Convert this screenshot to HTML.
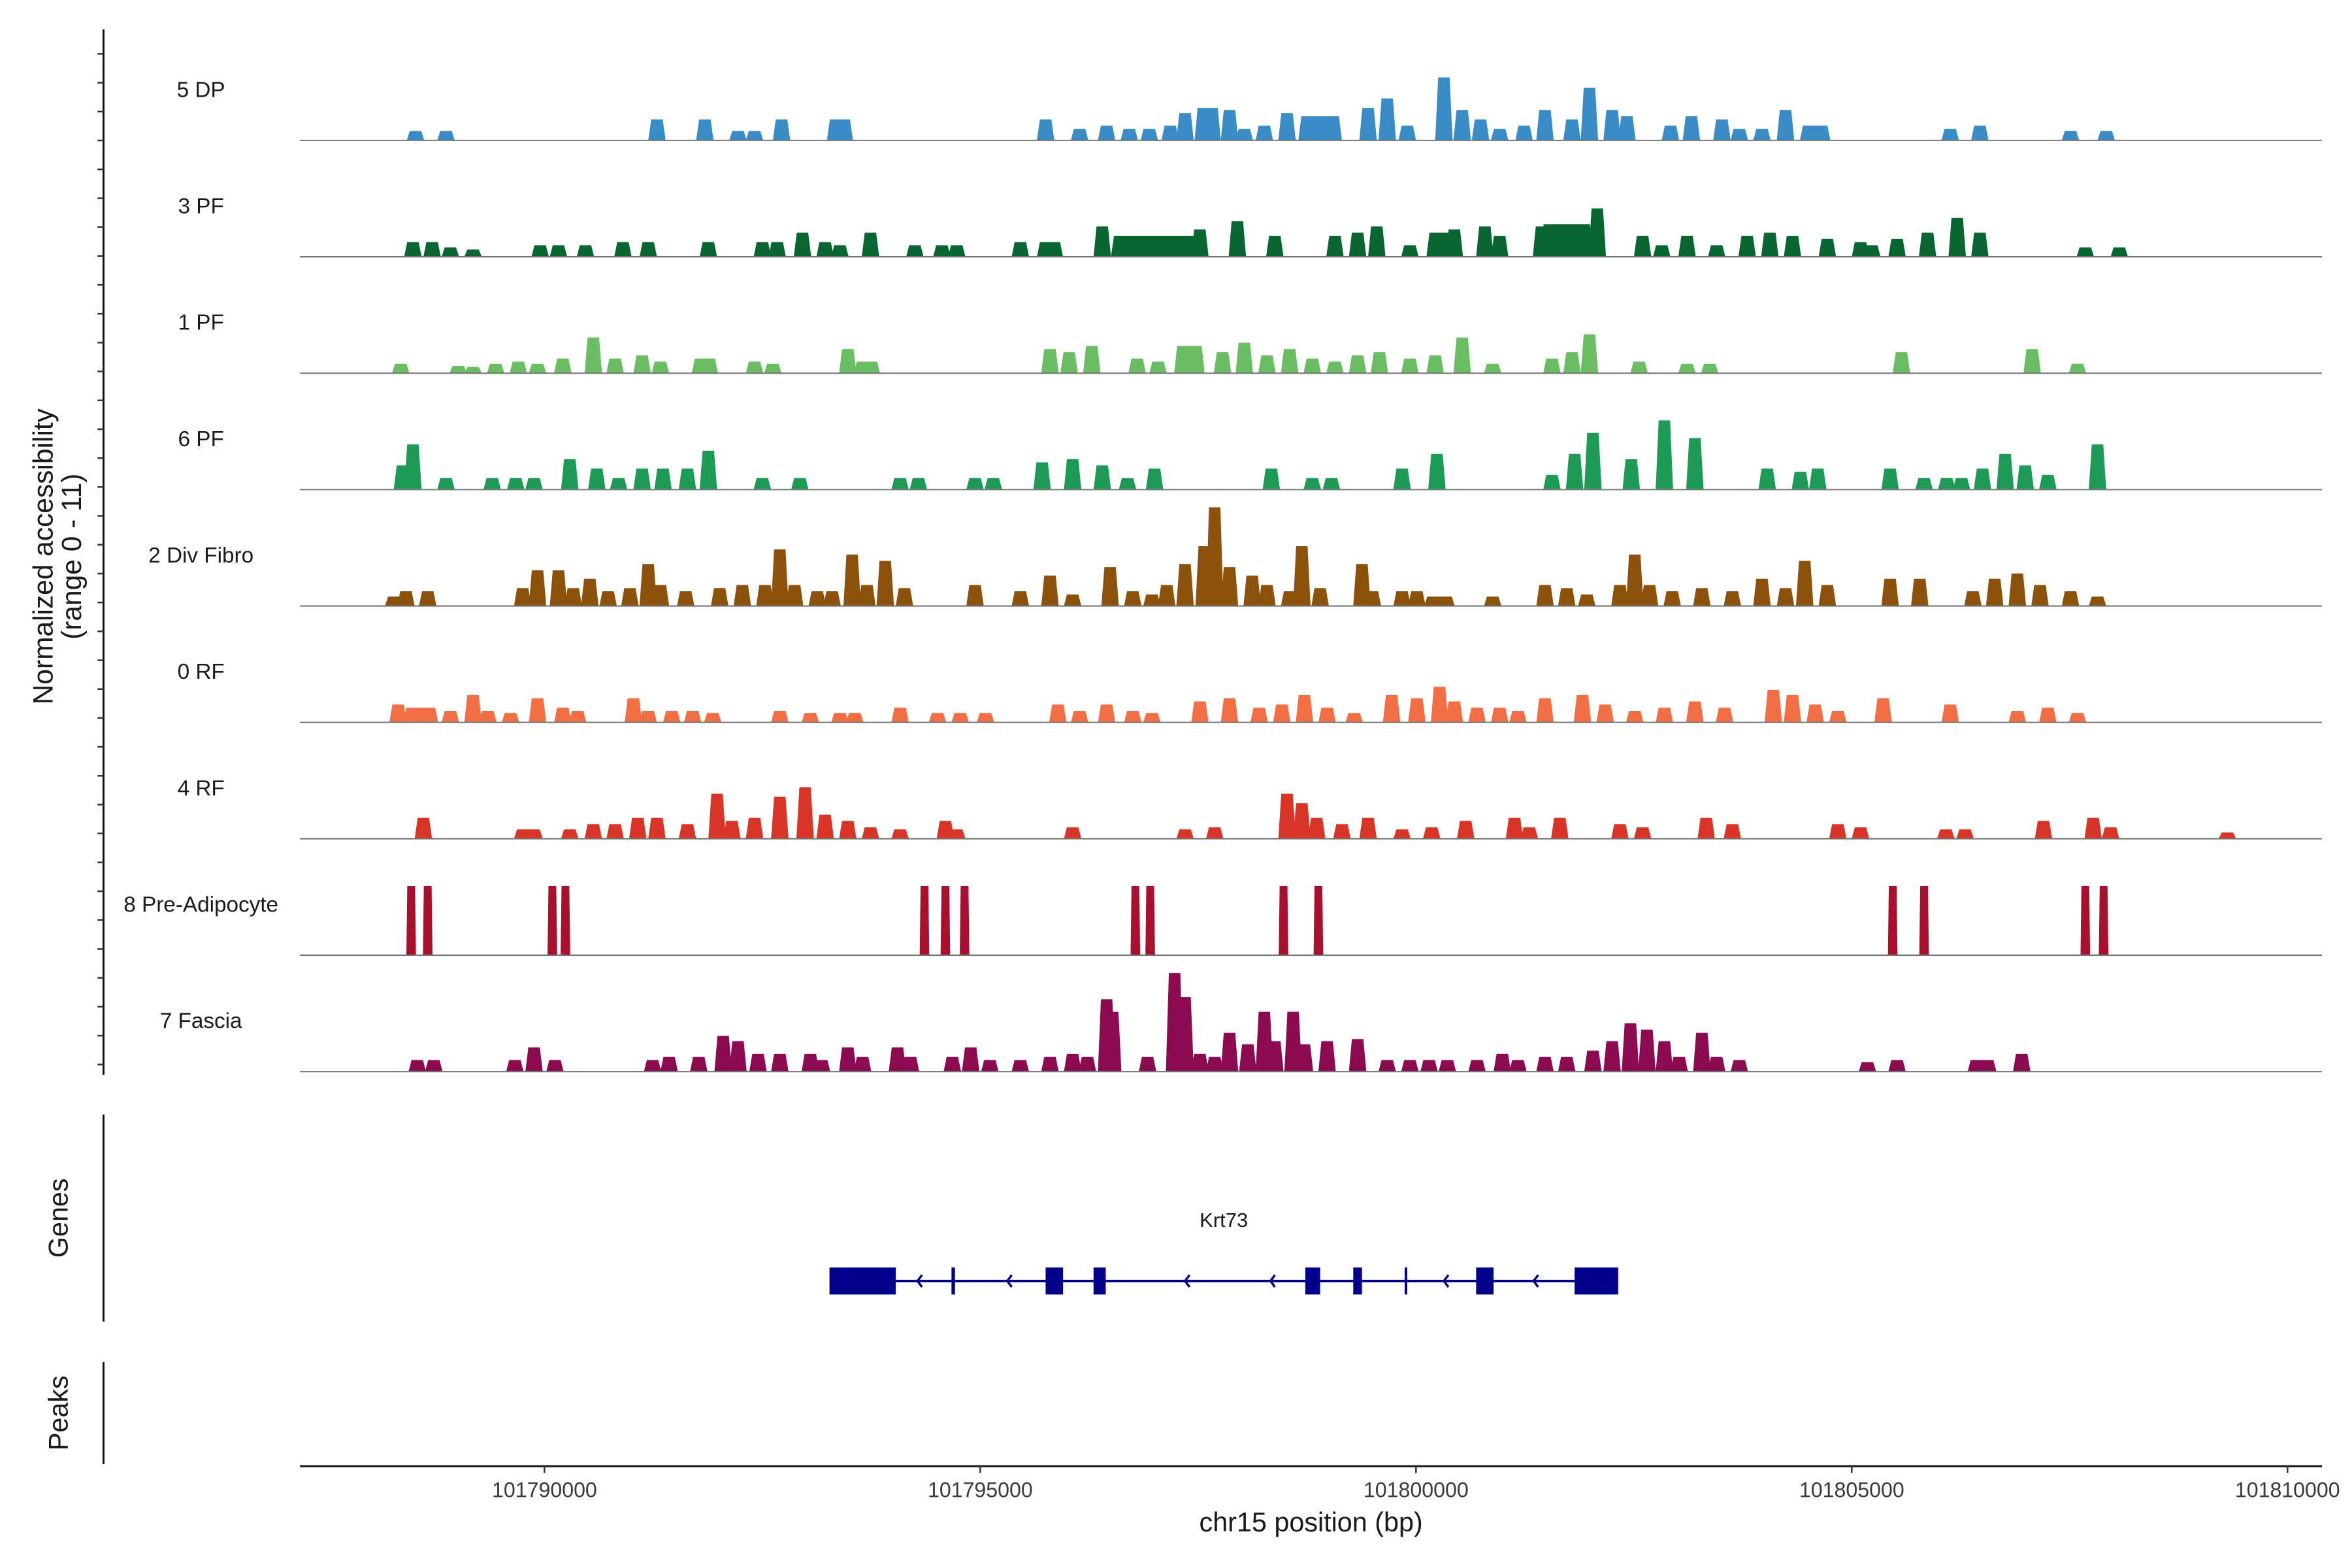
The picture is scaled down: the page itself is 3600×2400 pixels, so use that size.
<!DOCTYPE html>
<html><head><meta charset="utf-8"><style>
html,body{margin:0;padding:0;background:#fff}
svg{display:block}
text{font-family:"Liberation Sans",sans-serif;fill:#1a1a1a}
</style></head><body>
<svg id="chart" width="3600" height="2400" viewBox="0 0 1568 1045.33" preserveAspectRatio="none" xmlns="http://www.w3.org/2000/svg">
<rect width="1568" height="1046" fill="#fff"/>
<g id="tracks"></g>
<g id="axes"></g>
</svg>
<script>
// genomic positions in kb offset from 101,780,000 ; heights in normalized accessibility
const trackNames = ["5 DP","3 PF","1 PF","6 PF","2 Div Fibro","0 RF","4 RF","8 Pre-Adipocyte","7 Fascia"];
const trackColors = ["#3a8cc6","#0a6631","#6abd63","#1d9a55","#8c520c","#f26e45","#d83528","#a8102e","#8c0a50"];
const peaks5DP = [[8.52,.9],[8.87,.9],[11.29,2],[11.84,2],[12.22,.9],[12.41,.9],[12.72,2],[13.39,2,.3],[15.75,2,.2],[16.14,1.1],[16.45,1.4],[16.71,1.1],[16.94,1.1],[17.18,1.4],[17.35,2.6],[17.61,3.1,.3],[17.86,2.9],[18.03,1.1],[18.26,1.4],[18.52,2.6],[18.90,2.3,.5],[19.45,3.1],[19.67,4],[19.90,1.4],[20.32,6],[20.53,2.9],[20.74,2],[20.96,1.1],[21.24,1.4],[21.48,2.9],[21.79,2],[21.99,5],[22.25,2.9],[22.42,2.3],[22.92,1.4],[23.16,2.3],[23.51,2],[23.71,1.1],[23.97,1.1],[24.24,2.9],[24.58,1.4,.35],[26.13,1.1],[26.47,1.4],[27.51,.9],[27.92,.9]];
const peaks3PF = [[8.49,1.4],[8.71,1.4],[8.92,.9],[9.18,.7],[9.95,1.1],[10.16,1.1],[10.47,1.1],[10.90,1.4],[11.19,1.4],[11.88,1.4],[12.50,1.4],[12.67,1.4],[12.96,2.3],[13.22,1.4],[13.39,1.1],[13.74,2.3],[14.25,1.1],[14.56,1.1],[14.73,1.1],[15.46,1.4],[15.80,1.4,.3],[16.40,2.9],[17.00,2,1.0],[17.52,2.6],[17.95,3.4],[18.38,2],[19.07,2],[19.33,2.3],[19.55,2.9],[19.93,1.1],[20.27,2.3,.3],[20.44,2.6],[20.79,2.9],[20.96,2],[21.44,2.9],[21.73,3.1,.6],[22.08,4.6],[22.60,2],[22.82,1.1],[23.11,2],[23.45,1.1],[23.80,2],[24.06,2.3],[24.32,2],[24.72,1.7],[25.10,1.4],[25.23,1.1],[25.52,1.7],[25.87,2.3],[26.21,3.7],[26.47,2.3],[27.68,.9],[28.07,.9]];
const peaks1PF = [[8.35,.9],[9.01,.7],[9.18,.6],[9.44,.9],[9.70,1.1],[9.92,.9],[10.21,1.4],[10.56,3.4],[10.81,1.4],[11.12,1.7],[11.33,1.1],[11.84,1.4,.3],[12.41,1.1],[12.62,.9],[13.48,2.3],[13.70,1.1,.3],[15.80,2.3],[16.02,2],[16.28,2.6],[16.80,1.4],[17.04,1.1],[17.40,2.6,.35],[17.78,2],[18.03,2.9],[18.29,1.7],[18.55,2.3],[18.81,1.4],[19.07,1.1],[19.33,1.7,.2],[19.58,2],[19.93,1.4],[20.22,1.7],[20.53,3.4],[20.88,.9],[21.56,1.4],[21.79,2],[21.99,3.7],[22.56,1.1],[23.11,.9],[23.37,.9],[25.57,2],[27.07,2.3],[27.59,.9]];
const peaks6PF = [[8.37,2.3],[8.49,4.3],[8.87,1.1],[9.40,1.1],[9.67,1.1],[9.88,1.1],[10.29,2.9],[10.60,2],[10.85,1.1],[11.12,2],[11.36,2],[11.64,2],[11.88,3.7],[12.50,1.1],[12.93,1.1],[14.08,1.1],[14.29,1.1],[14.94,1.1],[15.15,1.1],[15.71,2.6],[16.06,2.9],[16.40,2.3],[16.69,1.1],[17.00,2],[18.34,2],[18.81,1.1],[19.03,1.1],[19.84,2],[20.24,3.4],[21.56,1.4],[21.82,3.4],[22.03,5.4],[22.47,2.9],[22.85,6.6],[23.20,4.9],[24.03,2],[24.41,1.7],[24.61,2],[25.44,2],[25.83,1.1],[26.09,1.1],[26.26,1.1],[26.50,2],[26.76,3.4],[26.99,2.3],[27.25,1.4],[27.82,4.3]];
const peaks2DivFibro = [[8.27,.9],[8.41,1.4],[8.66,1.4],[9.75,1.7],[9.92,3.4],[10.16,3.4],[10.33,1.7],[10.52,2.6],[10.73,1.4],[10.98,1.7],[11.19,4],[11.33,2],[11.62,1.4],[12.01,1.7],[12.27,2],[12.53,2],[12.70,5.4],[12.87,2],[13.13,1.4],[13.30,1.4],[13.53,4.9],[13.70,2],[13.91,4.3],[14.13,1.7],[14.94,2],[15.46,1.4],[15.80,2.9],[16.06,1.1],[16.49,3.7],[16.75,1.4],[16.97,1.1],[17.14,2,.2],[17.35,4],[17.57,5.7],[17.69,9.4],[17.86,3.7],[18.12,2.9],[18.29,2],[18.55,1.4],[18.69,5.7],[18.90,1.7],[19.38,4],[19.50,1.4],[19.84,1.4],[20.01,1.4],[20.27,.9,.35],[20.88,.9],[21.48,2],[21.73,1.7],[21.96,1.1],[22.34,2],[22.51,4.9],[22.68,2],[22.94,1.4],[23.28,1.7],[23.63,1.4],[23.97,2.6],[24.24,1.7],[24.46,4.3],[24.72,2],[25.44,2.6],[25.78,2.6],[26.39,1.4],[26.64,2.6],[26.90,3.1],[27.16,2],[27.51,1.4],[27.82,.9]];
const peaks0RF = [[8.32,1.7],[8.58,1.4,.4],[8.92,1.1],[9.18,2.6],[9.35,1.1],[9.61,.9],[9.92,2.3],[10.21,1.4],[10.38,1.1],[11.02,2.3],[11.19,1.1],[11.46,1.1],[11.70,1.1],[11.93,.9],[12.70,1.1],[13.05,.9],[13.39,.9],[13.56,.9],[14.08,1.4],[14.51,.9],[14.77,.9],[15.06,.9],[15.89,1.7],[16.14,1.1],[16.45,1.7],[16.75,1.1],[16.97,.9],[17.52,2],[17.86,2.3],[18.20,1.4],[18.46,1.7],[18.72,2.6],[18.98,1.4],[19.29,.9],[19.72,2.6],[20.01,2.3],[20.27,3.4],[20.44,2],[20.70,1.4],[20.96,1.4],[21.17,1.1],[21.48,2.3],[21.91,2.6],[22.17,1.7],[22.51,1.1],[22.85,1.4],[23.20,2],[23.54,1.4],[24.10,3.1],[24.32,2.6],[24.58,1.7],[24.84,1.1],[25.36,2.3],[26.13,1.7],[26.90,1.1],[27.25,1.4],[27.59,.9]];
const peaks4RF = [[8.61,2],[9.75,.9],[9.88,.9],[10.29,.9],[10.56,1.4],[10.81,1.4],[11.07,2],[11.29,2],[11.64,1.4],[11.98,4.3],[12.15,1.7],[12.41,2],[12.70,4],[12.99,4.9],[13.22,2.3],[13.48,1.7],[13.74,1.1],[14.08,.9],[14.60,1.7],[14.73,.9],[16.06,1.1],[17.35,.9],[17.69,1.1],[18.52,4.3],[18.69,3.4],[18.86,2],[19.15,1.4],[19.45,2],[19.84,.9],[20.18,1.1],[20.57,1.7],[21.13,2],[21.30,1.1],[21.65,2],[22.34,1.4],[22.60,1.1],[23.33,2],[23.63,1.4],[24.84,1.4],[25.10,1.1],[26.08,.9],[26.30,.9],[27.20,1.7],[27.77,2],[27.97,1.1],[29.31,.6]];
const peaks8PreAdipocyte = [[8.47,6.6],[8.66,6.6],[10.09,6.6],[10.24,6.6],[14.36,6.6],[14.60,6.6],[14.82,6.6],[16.78,6.6],[16.95,6.6],[18.48,6.6],[18.88,6.6],[25.47,6.6],[25.83,6.6],[27.68,6.6],[27.89,6.6]];
const peaks7Fascia = [[8.54,1.1],[8.73,1.1],[9.66,1.1],[9.88,2.3],[10.12,1.1],[11.24,1.1],[11.43,1.4],[11.77,1.4],[12.05,3.4],[12.22,2.9],[12.45,1.7],[12.70,1.7],[13.05,1.7],[13.18,1.1],[13.48,2.3],[13.65,1.4],[14.05,2.3],[14.20,1.4],[14.68,1.4],[14.89,2.3],[15.11,1.1],[15.46,1.1],[15.80,1.4],[16.06,1.7],[16.23,1.4],[16.45,6.9],[16.52,5.7],[16.92,1.4],[17.23,9.4],[17.35,7.1],[17.52,1.7],[17.69,1.4],[17.86,3.7],[18.07,2.6],[18.26,5.7],[18.38,2.9],[18.59,5.7],[18.72,2.6],[18.98,2.9],[19.33,3.1],[19.67,1.1],[19.93,1.1],[20.15,1.1],[20.36,1.1],[20.70,1.1],[20.99,1.7],[21.17,1.1],[21.48,1.4],[21.73,1.4],[22.03,2],[22.25,2.9],[22.46,4.6],[22.65,4],[22.85,2.9],[23.02,1.4],[23.28,3.7],[23.45,1.4],[23.71,1.1],[25.18,.9],[25.52,1.1],[26.43,1.1],[26.56,1.1],[26.95,1.7]];
const trackPeaks = [peaks5DP,peaks3PF,peaks1PF,peaks6PF,peaks2DivFibro,peaks0RF,peaks4RF,peaks8PreAdipocyte,peaks7Fascia];
const geneName = "Krt73";
const geneStartKb = 13.27, geneEndKb = 22.32;
const geneExons = [[13.27,14.03],[14.67,14.71],[15.75,15.95],[16.30,16.44],[18.73,18.90],[19.28,19.38],[19.87,19.90],[20.69,20.89],[21.82,22.32]];
const geneArrows = [14.28,15.31,17.35,18.33,20.32,21.35];
const xTicks = [101790000,101795000,101800000,101805000,101810000];

const NS="http://www.w3.org/2000/svg";
const X0=200, X1=1548;
function xScale(bp){ return 363 + (bp-101790000)*0.0581; }
function kbX(kb){ return xScale(101780000 + kb*1000); }
const TRACK_TOP=16, TRACK_H=77.6, UNIT=7;
function baseY(i){ return TRACK_TOP + (i+1)*TRACK_H; }
function yVal(i,v){ return baseY(i) - v*UNIT; }
function mk(tag,attrs,parent){const e=document.createElementNS(NS,tag);for(const k in attrs)e.setAttribute(k,attrs[k]);parent.appendChild(e);return e;}
const tracksG=document.getElementById('tracks'), axesG=document.getElementById('axes');

trackNames.forEach((name,i)=>{
  const g=mk('g',{},tracksG);
  
  
  const lbl=mk('text',{x:134,y:baseY(i)-29,'text-anchor':'middle','font-size':14.5},g);
  lbl.textContent=name;
  
  
  const isBar = (i===7);
  trackPeaks[i].forEach(p=>{
    const w=(p[2]||(isBar?0.11:0.2));
    const xa=kbX(p[0]-w/2), xb=kbX(p[0]+w/2), b=baseY(i), t=yVal(i,p[1]);
    const inset=isBar?0.6:Math.min(2,(xb-xa)*0.2);
    const poly=mk('polygon',{points:`${xa},${b} ${xa+inset},${t} ${xb-inset},${t} ${xb},${b}`,fill:trackColors[i]},g);
    
    
  });
  const bl=mk('line',{x1:X0,x2:X1,y1:baseY(i),y2:baseY(i),stroke:'#777','stroke-width':0.9},g);
  
  
});

const ya=mk('line',{x1:69,x2:69,y1:19.6,y2:716.5,stroke:'#111','stroke-width':1.3},axesG);


for(let y=35.9;y<716;y+=19.25){
  const t=mk('line',{x1:65,x2:69,y1:y,y2:y,stroke:'#333','stroke-width':1.1},axesG);
  
  
}
const yt=mk('text',{'font-size':18.5,'text-anchor':'middle',transform:'translate(35,371) rotate(-90)'},axesG);


yt.innerHTML='<tspan x="0" dy="0">Normalized accessibility</tspan><tspan x="0" dy="19">(range 0 - 11)</tspan>';

const ga=mk('line',{x1:69,x2:69,y1:743,y2:881,stroke:'#111','stroke-width':1.3},axesG);


const gt=mk('text',{'font-size':18,'text-anchor':'middle',transform:'translate(45,812) rotate(-90)'},axesG);
gt.textContent='Genes';


const geneG=mk('g',{},axesG);


const GY=854;
mk('line',{x1:kbX(geneStartKb),x2:kbX(geneEndKb),y1:GY,y2:GY,stroke:'#00008b','stroke-width':1.6},geneG);
geneExons.forEach(e=>{
  const r=mk('rect',{x:kbX(e[0]),y:GY-9,width:Math.max(1.5,kbX(e[1])-kbX(e[0])),height:18,fill:'#00008b'},geneG);
  
  
});
geneArrows.forEach(a=>{
  const x=kbX(a);
  const p=mk('polyline',{points:`${x+3},${GY-4} ${x},${GY} ${x+3},${GY+4}`,fill:'none',stroke:'#00008b','stroke-width':1.5},geneG);
  
  
});
const gl=mk('text',{x:kbX((geneStartKb+geneEndKb)/2),y:818,'font-size':13.5,'text-anchor':'middle'},geneG);
gl.textContent=geneName;



const pa=mk('line',{x1:69,x2:69,y1:908,y2:976,stroke:'#111','stroke-width':1.3},axesG);


const pt=mk('text',{'font-size':18,'text-anchor':'middle',transform:'translate(45,942) rotate(-90)'},axesG);
pt.textContent='Peaks';



const xa=mk('line',{x1:X0,x2:X1,y1:977.5,y2:977.5,stroke:'#111','stroke-width':1.3},axesG);


xTicks.forEach(v=>{
  const x=xScale(v);
  const t=mk('line',{x1:x,x2:x,y1:977.5,y2:982,stroke:'#333','stroke-width':1.1},axesG);
  
  
  const l=mk('text',{x:x,y:998,'font-size':14,'text-anchor':'middle'},axesG);
  l.textContent=String(v);
  l.style.fill='#3a3a3a';
  
  
});
const xt=mk('text',{x:874,y:1021,'font-size':18,'text-anchor':'middle'},axesG);
xt.textContent='chr15 position (bp)';


</script>
</body></html>
